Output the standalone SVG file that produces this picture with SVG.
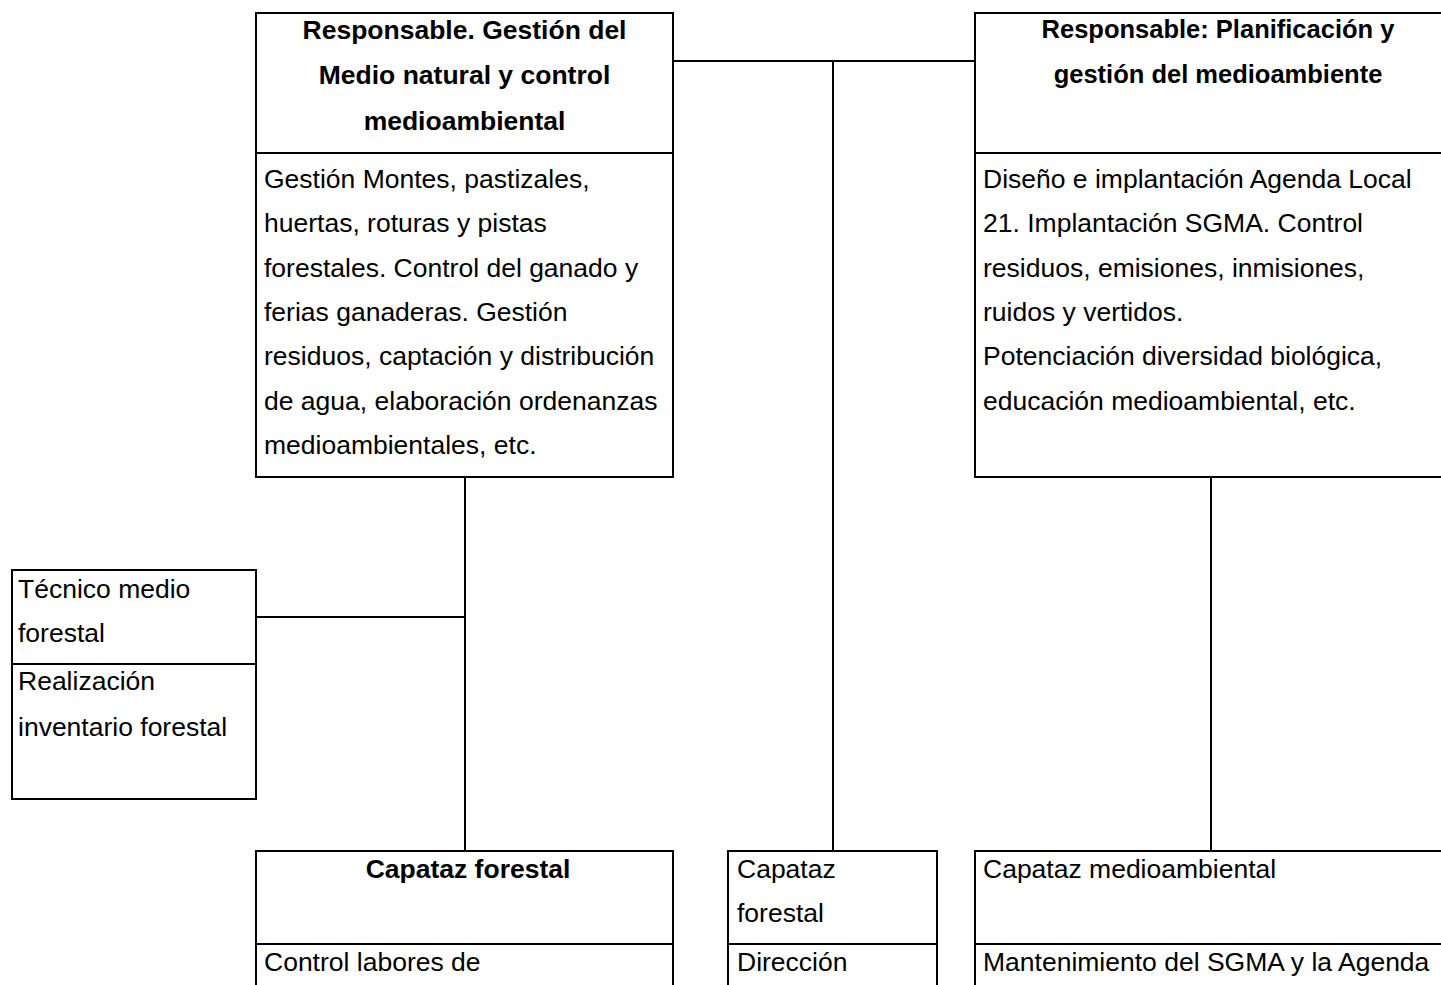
<svg xmlns="http://www.w3.org/2000/svg" width="1441" height="985" viewBox="0 0 1441 985">
<style>
.box{fill:#fff;stroke:#000;stroke-width:2}
.ln{stroke:#000;stroke-width:2;fill:none}
text{font-family:"Liberation Sans",Arial,sans-serif;font-size:26.5px;fill:#000}
.b{font-weight:bold;text-anchor:middle}
.r{font-size:25.5px}
</style>
<rect width="1441" height="985" fill="#fff"/>
<g id="connectors">
<path class="ln" d="M673 61H975M833 61V851"/>
<path class="ln" d="M465 477V851M256 617H465"/>
<path class="ln" d="M1211 477V851"/>
</g>
<g id="n-gestion-medio">
<rect class="box" x="256" y="13" width="417" height="464"/>
<line class="ln" x1="256" y1="153" x2="673" y2="153"/>
<text class="b" x="464.5" y="39">Responsable. Gestión del</text>
<text class="b" x="464.5" y="84">Medio natural y control</text>
<text class="b" x="464.5" y="130">medioambiental</text>
<text x="264" y="188">Gestión Montes, pastizales,</text>
<text x="264" y="232">huertas, roturas y pistas</text>
<text x="264" y="277">forestales. Control del ganado y</text>
<text x="264" y="321">ferias ganaderas. Gestión</text>
<text x="264" y="365">residuos, captación y distribución</text>
<text x="264" y="410">de agua, elaboración ordenanzas</text>
<text x="264" y="454">medioambientales, etc.</text>
</g>
<g id="n-planificacion">
<rect class="box" x="975" y="13" width="480" height="464"/>
<line class="ln" x1="975" y1="153" x2="1455" y2="153"/>
<text class="b r" x="1218" y="38">Responsable: Planificación y</text>
<text class="b r" x="1218" y="83">gestión del medioambiente</text>
<text x="983" y="188">Diseño e implantación Agenda Local</text>
<text x="983" y="232">21. Implantación SGMA. Control</text>
<text x="983" y="277">residuos, emisiones, inmisiones,</text>
<text x="983" y="321">ruidos y vertidos.</text>
<text x="983" y="365">Potenciación diversidad biológica,</text>
<text x="983" y="410">educación medioambiental, etc.</text>
</g>
<g id="n-tecnico">
<rect class="box" x="12" y="570" width="244" height="229"/>
<line class="ln" x1="12" y1="664" x2="256" y2="664"/>
<text x="18" y="598">Técnico medio</text>
<text x="18" y="642">forestal</text>
<text x="18" y="690">Realización</text>
<text x="18" y="736">inventario forestal</text>
</g>
<g id="n-capataz-forestal">
<rect class="box" x="256" y="851" width="417" height="160"/>
<line class="ln" x1="256" y1="944" x2="673" y2="944"/>
<text class="b" x="468" y="878">Capataz forestal</text>
<text x="264" y="971">Control labores de</text>
</g>
<g id="n-capataz-forestal-2">
<rect class="box" x="728" y="851" width="209" height="160"/>
<line class="ln" x1="728" y1="944" x2="937" y2="944"/>
<text x="737" y="878">Capataz</text>
<text x="737" y="922">forestal</text>
<text x="737" y="971">Dirección</text>
</g>
<g id="n-capataz-medioambiental">
<rect class="box" x="975" y="851" width="480" height="160"/>
<line class="ln" x1="975" y1="944" x2="1455" y2="944"/>
<text x="983" y="878">Capataz medioambiental</text>
<text x="983" y="971">Mantenimiento del SGMA y la Agenda</text>
</g>
</svg>
